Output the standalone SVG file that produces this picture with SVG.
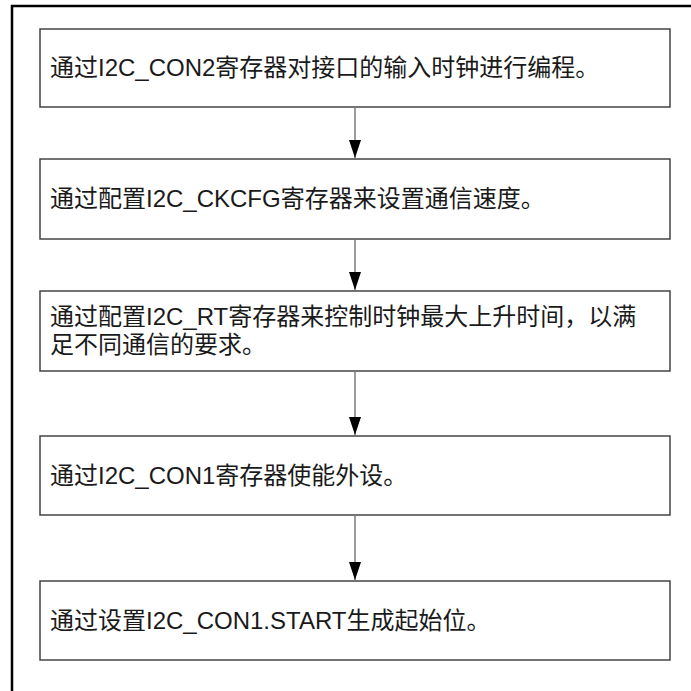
<svg xmlns="http://www.w3.org/2000/svg" width="691" height="691" viewBox="0 0 691 691">
<defs>
<style>
.frame{fill:none;stroke:#000;stroke-width:2.5}
.box{fill:#fff;stroke:#444;stroke-width:1.5}
.t{font-family:"Liberation Sans","Noto Sans CJK SC",sans-serif;font-size:24px;fill:#1a1a1a}
.conn{stroke:#7a7a7a;stroke-width:1.5;fill:none}
</style>
<marker id="ah" markerWidth="18" markerHeight="12" refX="18" refY="6" orient="auto" markerUnits="userSpaceOnUse" viewBox="0 0 18 12">
<path d="M0,0 L18,6 L0,12 Z" fill="#000"/>
</marker>
</defs>
<rect width="691" height="691" fill="#fff"/>
<path class="frame" d="M12,691 L12,6 L691,6"/>
<g id="n1"><rect class="box" x="40" y="29" width="630" height="78"/><text class="t" x="50" y="76">通过I2C_CON2寄存器对接口的输入时钟进行编程。</text></g>
<g id="n2"><rect class="box" x="40" y="159" width="630" height="80"/><text class="t" x="50" y="207">通过配置I2C_CKCFG寄存器来设置通信速度。</text></g>
<g id="n3"><rect class="box" x="40" y="291" width="630" height="80"/><text class="t" x="50" y="325">通过配置I2C_RT寄存器来控制时钟最大上升时间，以满</text><text class="t" x="50" y="353">足不同通信的要求。</text></g>
<g id="n4"><rect class="box" x="40" y="436" width="630" height="79"/><text class="t" x="50" y="484">通过I2C_CON1寄存器使能外设。</text></g>
<g id="n5"><rect class="box" x="40" y="581" width="630" height="79"/><text class="t" x="50" y="629">通过设置I2C_CON1.START生成起始位。</text></g>
<g id="connectors">
<line class="conn" x1="355" y1="107" x2="355" y2="158" marker-end="url(#ah)"/>
<line class="conn" x1="355" y1="239" x2="355" y2="290" marker-end="url(#ah)"/>
<line class="conn" x1="355" y1="371" x2="355" y2="435" marker-end="url(#ah)"/>
<line class="conn" x1="355" y1="515" x2="355" y2="580" marker-end="url(#ah)"/>
</g>
</svg>
